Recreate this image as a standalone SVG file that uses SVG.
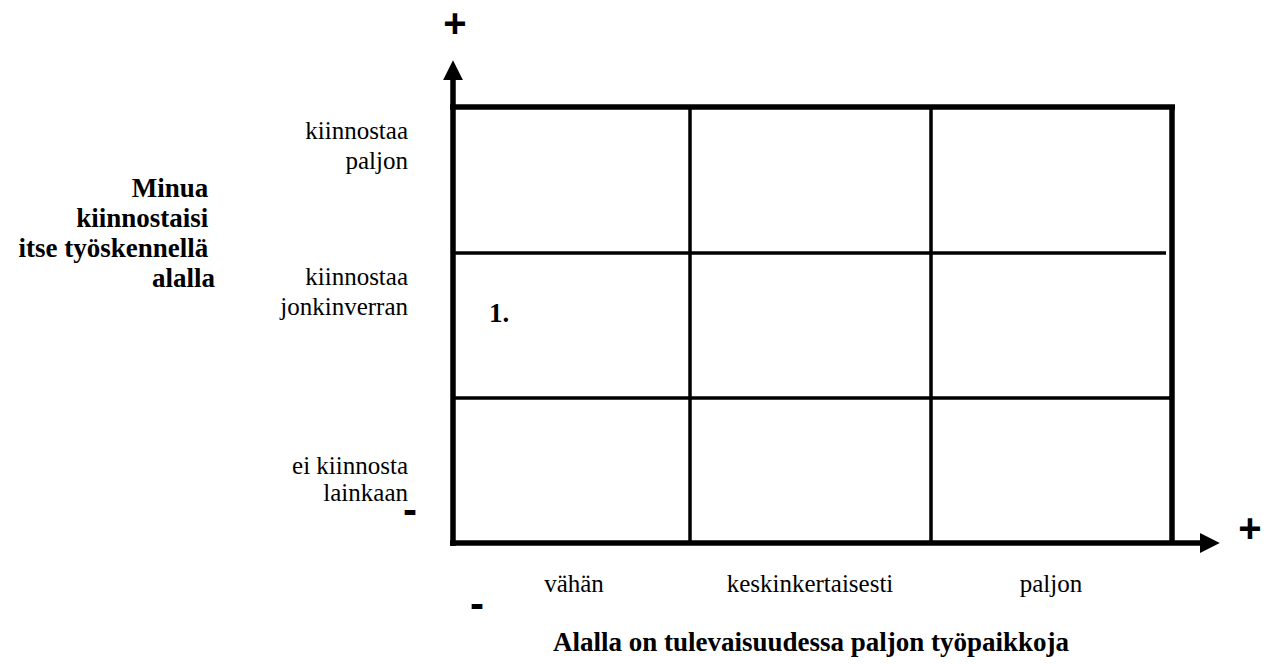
<svg xmlns="http://www.w3.org/2000/svg" width="1266" height="664" viewBox="0 0 1266 664">
  <style>
    .lbl { font-family: "Liberation Serif", "Times New Roman", serif; font-size: 25px; fill: #000; }
    .ttl { font-family: "Liberation Serif", "Times New Roman", serif; font-size: 27px; font-weight: bold; fill: #000; }
    .sign { font-family: "Liberation Sans", Arial, sans-serif; font-weight: bold; fill: #000; }
    .outer { stroke: #000; stroke-width: 5.5; fill: none; }
    .inner { stroke: #000; stroke-width: 3.5; fill: none; }
  </style>
  <defs>
    <marker id="arrow" viewBox="0 0 10 10" refX="0" refY="5" markerWidth="3.6" markerHeight="3.6" orient="auto" markerUnits="strokeWidth">
      <path d="M0,0 L10,5 L0,10 z" fill="#000"/>
    </marker>
  </defs>
  <rect width="1266" height="664" fill="#fff"/>

  <!-- grid cells -->
  <g id="grid">
    <line class="inner" x1="453" y1="253" x2="1166" y2="253"/>
    <line class="inner" x1="453" y1="398" x2="1172" y2="398"/>
    <line class="inner" x1="690" y1="107" x2="690" y2="543"/>
    <line class="inner" x1="931" y1="107" x2="931" y2="543"/>
    <line class="outer" x1="450" y1="107" x2="1175" y2="107"/>
    <line class="outer" x1="1172" y1="105" x2="1172" y2="543"/>
  </g>

  <!-- axes -->
  <g id="axes">
    <line class="outer" x1="453" y1="546" x2="453" y2="80" marker-end="url(#arrow)"/>
    <line class="outer" x1="450" y1="543" x2="1200" y2="543" marker-end="url(#arrow)"/>
  </g>

  <!-- axis end signs -->
  <g id="signs">
    <text class="sign" x="455" y="37" font-size="40" text-anchor="middle">+</text>
    <text class="sign" x="1250" y="542" font-size="40" text-anchor="middle">+</text>
    <text class="sign" x="410" y="524" font-size="42" text-anchor="middle">-</text>
    <text class="sign" x="477" y="618" font-size="42" text-anchor="middle">-</text>
  </g>

  <!-- vertical axis title -->
  <g id="y-title">
    <text class="ttl" text-anchor="end">
      <tspan x="215" y="197">Minua</tspan>
      <tspan x="215" y="227">kiinnostaisi</tspan>
      <tspan x="215" y="257">itse työskennellä</tspan>
      <tspan x="215" y="287">alalla</tspan>
    </text>
  </g>

  <!-- row labels -->
  <g id="row-1">
    <text class="lbl" text-anchor="end"><tspan x="408" y="139">kiinnostaa</tspan><tspan x="408" y="169">paljon</tspan></text>
  </g>
  <g id="row-2">
    <text class="lbl" text-anchor="end"><tspan x="408" y="285">kiinnostaa</tspan><tspan x="408" y="315">jonkinverran</tspan></text>
  </g>
  <g id="row-3">
    <text class="lbl" text-anchor="end"><tspan x="408" y="474">ei kiinnosta</tspan><tspan x="408" y="501">lainkaan</tspan></text>
  </g>

  <!-- column labels -->
  <g id="col-1"><text class="lbl" x="574" y="592" text-anchor="middle">vähän</text></g>
  <g id="col-2"><text class="lbl" x="810" y="592" text-anchor="middle">keskinkertaisesti</text></g>
  <g id="col-3"><text class="lbl" x="1051" y="592" text-anchor="middle">paljon</text></g>

  <!-- horizontal axis title -->
  <g id="x-title"><text class="ttl" x="811" y="651" text-anchor="middle">Alalla on tulevaisuudessa paljon työpaikkoja</text></g>

  <!-- cell marker -->
  <g id="cell-1"><text class="ttl" x="499" y="322" text-anchor="middle" font-size="25">1.</text></g>
</svg>
